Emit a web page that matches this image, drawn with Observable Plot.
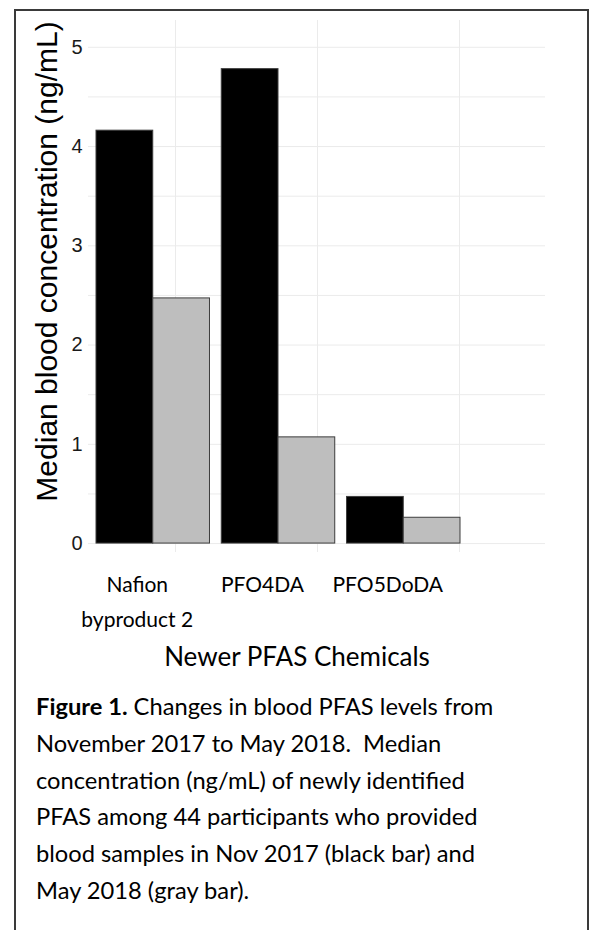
<!DOCTYPE html>
<html>
<head>
<meta charset="utf-8">
<script src="https://cdn.jsdelivr.net/npm/d3@7"></script>
<script src="https://cdn.jsdelivr.net/npm/@observablehq/plot@0.6"></script>
<style>
  html, body { margin: 0; padding: 0; background: #fff; }
  #page { position: relative; width: 595px; height: 930px; overflow: hidden; }
  #frame { position: absolute; left: 14px; top: 9px; width: 575px; height: 960px;
           box-sizing: border-box; border: 2px solid #3a3a3a; border-bottom: none; }
  .layer { position: absolute; left: 0; top: 0; }
  #caption { position: absolute; left: 36px; top: 688px; font-family: Lato, sans-serif;
             font-size: 23.7px; line-height: 36.8px; color: #000; white-space: pre; }
  #caption div { height: 36.8px; }
</style>
</head>
<body>
<div id="page">
  <div id="frame"></div>
  <div id="bg" class="layer"></div>
  <div id="fg" class="layer"></div>
  <div id="caption"></div>
</div>
<script>
// ---- data ----
const chemicals = ["Nafion byproduct 2", "PFO4DA", "PFO5DoDA"];
const chemicalLabels = ["Nafion\nbyproduct 2", "PFO4DA", "PFO5DoDA"];
const periods = ["Nov 2017", "May 2018"];
const nov2017 = [4.16, 4.78, 0.47];
const may2018 = [2.47, 1.07, 0.26];
const yTicks = [0, 1, 2, 3, 4, 5];
const yGrid = [0, 0.5, 1, 1.5, 2, 2.5, 3, 3.5, 4, 4.5, 5];
const periodColors = ["#000000", "#bebebe"];
const yTitle = "Median blood concentration (ng/mL)";
const xTitle = "Newer PFAS Chemicals";
const captionBold = "Figure 1.";
const captionLines = [
  " Changes in blood PFAS levels from",
  "November 2017 to May 2018.  Median",
  "concentration (ng/mL) of newly identified",
  "PFAS among 44 participants who provided",
  "blood samples in Nov 2017 (black bar) and",
  "May 2018 (gray bar)."
];

const data = chemicals.flatMap((c, i) => [
  {chemical: c, period: periods[0], value: nov2017[i]},
  {chemical: c, period: periods[1], value: may2018[i]}
]);

const W = 595, H = 680;
const yDomain = [-0.09, 5.27];

// background layer: grid, y axis, titles
const bg = Plot.plot({
  width: W, height: H,
  marginLeft: 88, marginRight: 50, marginTop: 20, marginBottom: 128,
  style: {background: "transparent", fontFamily: "'Liberation Sans', Arial, sans-serif", fontSize: "20px", color: "#1a1a1a"},
  x: {type: "point", domain: chemicals, padding: 0.6, axis: null},
  y: {domain: yDomain, axis: null},
  marks: [
    Plot.ruleY(yGrid, {stroke: "#ebebeb", strokeWidth: 1}),
    Plot.ruleX(chemicals, {stroke: "#ebebeb", strokeWidth: 1}),
    Plot.axisY(yTicks, {tickSize: 0, tickPadding: 6, fontSize: 20, fill: "#1a1a1a", label: null,
                        tickFormat: d3.format("d")}),
    Plot.text([yTitle], {frameAnchor: "left", textAnchor: "middle", rotate: -90, dx: -41, dy: -25,
                         fontSize: 30, fill: "#000", fontFamily: "'Liberation Sans', Arial, sans-serif"}),
    Plot.text([xTitle], {frameAnchor: "bottom", textAnchor: "middle", dx: -20, dy: 113, fontSize: 26, fill: "#000",
                         fontFamily: "Lato, sans-serif"})
  ]
});
document.getElementById("bg").appendChild(bg);

// foreground layer: grouped bars and category labels
const fg = Plot.plot({
  width: W, height: H,
  marginLeft: 96, marginRight: 135, marginTop: 20, marginBottom: 128,
  style: {background: "transparent", fontFamily: "Lato, sans-serif"},
  fx: {domain: chemicals, paddingInner: 0.094, paddingOuter: 0, round: false, axis: null, label: null},
  x: {domain: periods, padding: 0, round: false, axis: null},
  y: {domain: yDomain, axis: null},
  color: {domain: periods, range: periodColors},
  marks: [
    Plot.barY(data, {fx: "chemical", x: "period", y: "value", fill: "period", stroke: "#3d3d3d", strokeWidth: 1}),
    Plot.text(chemicals, {fx: d => d, text: d => chemicalLabels[chemicals.indexOf(d)],
                          frameAnchor: "bottom", textAnchor: "middle", lineAnchor: "top", dx: -16, dy: 15,
                          fontSize: 21, lineHeight: 1.67, fill: "#000", fontFamily: "Lato, sans-serif"})
  ]
});
document.getElementById("fg").appendChild(fg);

// caption, one block per line
const cap = document.getElementById("caption");
captionLines.forEach((line, i) => {
  const row = document.createElement("div");
  if (i === 0) {
    const b = document.createElement("b");
    b.textContent = captionBold;
    row.appendChild(b);
    const s = document.createElement("span");
    s.textContent = line;
    row.appendChild(s);
  } else {
    row.textContent = line;
  }
  cap.appendChild(row);
});
</script>
</body>
</html>
